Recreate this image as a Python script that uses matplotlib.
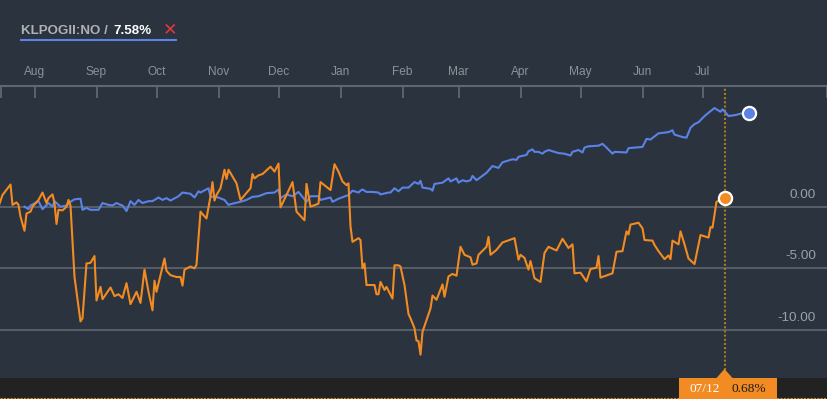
import matplotlib
matplotlib.use("Agg")
import matplotlib.pyplot as plt
import matplotlib.dates as mdates
from matplotlib.patches import Rectangle, Polygon
from matplotlib.lines import Line2D
import pandas as pd

# ---- data (days counted from START) ----
START = pd.Timestamp("2018-07-14")

orange_days = [0, 2, 6, 7, 9, 10, 11, 13, 14, 16, 17, 20, 22, 24, 25, 27, 28, 29, 30, 32,
               34, 35, 36, 38, 41, 42, 44, 46, 48, 49, 51, 52, 56, 58, 60, 62, 64, 66, 69, 71,
               73, 75, 77, 78, 79, 83, 84, 86, 89, 91, 92, 93, 96, 98, 99, 101, 102, 104, 106, 107,
               108, 109, 111, 113, 114, 115, 119, 121, 126, 127, 128, 130, 132, 136, 138, 140, 141, 144, 147, 149,
               153, 154, 156, 160, 161, 166, 168, 170, 172, 174, 175, 176, 177, 180, 181, 182, 183, 184, 188, 189,
               190, 191, 193, 194, 197, 198, 200, 201, 203, 205, 206, 208, 209, 210, 211, 212, 216, 217, 219, 222,
               223, 225, 227, 229, 231, 233, 236, 237, 239, 240, 244, 245, 246, 249, 252, 258, 260, 261, 263, 265,
               266, 268, 271, 273, 275, 279, 282, 285, 287, 288, 291, 294, 296, 299, 300, 301, 307, 309, 312, 314,
               315, 316, 320, 322, 323, 327, 328, 330, 333, 335, 336, 337, 340, 341, 343, 345, 348, 351, 355, 356,
               357, 359, 363]
orange_vals = [0.0, 0.95, 1.8, 0.15, 0.35, 0.15, -0.8, -1.95, -0.55, -0.4, 0.0, 0.55, 1.15, 0.3, 0.7, 1.0, 0.3, -1.4, -0.25, -0.3,
               0.0, 0.55, 0.1, -5.7, -9.3, -9.05, -4.6, -4.55, -4.0, -7.6, -6.5, -7.5, -6.55, -7.25, -7.1, -7.4, -6.2, -7.9, -6.9, -7.8,
               -5.1, -6.9, -8.4, -6.0, -6.9, -4.2, -5.2, -5.55, -5.7, -5.7, -6.4, -5.1, -4.85, -5.0, -4.7, -0.4, -0.6, -0.95, 0.85, 2.0,
               0.5, 0.95, 1.5, 3.0, 2.25, 3.0, 1.9, 0.55, 1.5, 2.65, 2.3, 2.55, 2.65, 3.25, 2.85, 3.5, -0.05, 0.95, 2.0, -0.4,
               -1.1, 1.85, 0.0, 0.25, 2.0, 1.35, 3.45, 2.85, 2.05, 1.75, 1.9, -1.6, -2.85, -2.55, -2.7, -5.0, -4.6, -6.35, -6.35, -7.1,
               -7.1, -6.1, -6.75, -6.5, -7.45, -4.75, -4.75, -4.85, -6.35, -8.7, -9.05, -9.85, -10.85, -10.9, -12.0, -10.15, -8.25, -7.2, -7.55, -6.3,
               -7.3, -5.65, -5.45, -5.6, -3.25, -3.9, -4.1, -4.7, -4.6, -3.9, -3.25, -2.45, -3.9, -3.5, -2.9, -2.55, -4.3, -3.9, -4.15, -5.1,
               -4.4, -5.8, -6.1, -3.75, -3.25, -3.55, -2.6, -3.35, -3.05, -5.4, -5.35, -6.05, -5.05, -4.95, -4.0, -5.75, -5.4, -3.65, -3.6, -2.0,
               -2.25, -1.45, -1.3, -1.75, -2.7, -2.75, -3.1, -3.6, -4.25, -3.95, -4.25, -2.75, -3.05, -2.0, -3.05, -4.2, -4.65, -2.3, -2.5, -1.65,
               -1.7, 0.4, 0.68]

blue_days = [13, 15, 16, 20, 22, 25, 27, 28, 31, 34, 36, 38, 41, 42, 44, 46, 50, 52, 55, 57,
             59, 61, 62, 64, 66, 68, 70, 72, 75, 77, 80, 82, 84, 86, 90, 92, 96, 98, 100, 101,
             105, 106, 109, 113, 115, 117, 121, 124, 127, 130, 134, 138, 140, 141, 144, 147, 150, 154, 156, 160,
             161, 166, 167, 170, 175, 177, 180, 181, 182, 184, 187, 190, 191, 195, 196, 198, 200, 202, 205, 208,
             210, 211, 212, 216, 217, 218, 222, 225, 226, 229, 230, 232, 234, 236, 237, 239, 244, 247, 250, 252,
             257, 259, 260, 264, 265, 267, 268, 270, 272, 273, 275, 277, 280, 283, 286, 287, 290, 292, 293, 295,
             300, 302, 304, 307, 308, 314, 315, 322, 324, 326, 330, 335, 337, 338, 342, 344, 346, 348, 350, 353,
             356, 358, 361, 362, 364, 365, 369, 371, 375]
blue_vals = [0.0, -0.2, 0.1, 0.45, -0.2, 0.3, 0.0, 0.45, 0.0, 0.1, 0.4, 0.6, 0.65, -0.25, -0.1, -0.25, -0.25, 0.3, 0.15, 0.1,
             0.3, 0.15, 0.1, -0.35, 0.45, 0.15, 0.55, 0.3, 0.45, 0.45, 0.75, 0.55, 0.7, 0.5, 0.85, 1.15, 1.05, 0.75, 1.25, 1.15,
             1.5, 0.8, 0.8, 0.55, 0.15, 0.25, 0.4, 0.55, 0.8, 0.85, 1.1, 1.15, 1.4, 0.7, 1.0, 0.85, 1.2, 0.4, 0.85, 0.85,
             0.55, 0.75, 0.4, 0.65, 0.95, 1.3, 1.15, 1.3, 1.4, 1.2, 1.2, 1.15, 1.0, 1.15, 1.15, 1.5, 1.25, 1.55, 1.55, 2.0,
             1.85, 2.1, 1.55, 1.45, 1.3, 1.85, 1.95, 2.3, 2.05, 2.3, 1.95, 2.15, 2.05, 2.15, 2.5, 2.15, 2.75, 3.3, 3.15, 3.6,
             3.85, 3.8, 4.05, 4.2, 4.5, 4.65, 4.45, 4.45, 4.3, 4.45, 4.6, 4.5, 4.35, 4.3, 4.15, 4.45, 4.6, 4.4, 4.8, 4.9,
             4.95, 5.1, 4.8, 4.3, 4.45, 4.4, 4.75, 4.85, 5.5, 5.45, 5.95, 6.05, 6.2, 5.85, 5.65, 5.6, 6.4, 6.7, 6.85, 7.35,
             7.75, 8.0, 7.7, 7.9, 7.55, 7.35, 7.45, 7.55, 7.58]

month_labels = ["Aug", "Sep", "Oct", "Nov", "Dec", "Jan", "Feb", "Mar", "Apr", "May", "Jun", "Jul"]
month_starts = pd.date_range("2018-08-01", "2019-07-01", freq="MS")
y_ticks = [0, -5, -10]
y_tick_labels = ["0.00", "-5.00", "-10.00"]

ticker_name = "KLPOGII:NO"
ticker_change = "7.58%"
hover_label = "07/12"
hover_value = "0.68%"

# ---- style ----
BG = "#2b333e"
BAND = "#222222"
ORANGE = "#f28b22"
BLUE = "#5b83e6"
GRID = "#565d66"
AXIS = "#5f666e"
LABEL = "#8c9299"

W, H = 828, 399
fig = plt.figure(figsize=(W / 100, H / 100), dpi=100)
fig.patch.set_facecolor(BG)

# plot area: pixel rows 86 .. 378
ax = fig.add_axes([0, (H - 378) / H, 1, (378 - 86) / H])
ax.set_facecolor(BG)

orange_dates = START + pd.to_timedelta(orange_days, unit="D")
blue_dates = START + pd.to_timedelta(blue_days, unit="D")

x0 = mdates.date2num(START)
ax.set_xlim(x0 + 0.75, x0 + 414.75)
ax.set_ylim(-13.89, 9.79)

for y in y_ticks:
    ax.axhline(y, color=GRID, lw=1.5, zorder=1)

ax.plot(blue_dates, blue_vals, color=BLUE, lw=1.5, zorder=3, solid_joinstyle="round")
ax.plot(orange_dates, orange_vals, color=ORANGE, lw=1.5, zorder=4, solid_joinstyle="round")

# hover line
hover_date = orange_dates[-1]
ax.axvline(hover_date, ymin=(378 - 370) / 292, ymax=1, color="#a57a24", lw=1.5,
           dashes=(1, 1), zorder=2)

ax.plot(blue_dates[-1], blue_vals[-1], "o", ms=9.5, mfc=BLUE, mec="white", mew=1.6, zorder=6)
ax.plot(hover_date, orange_vals[-1], "o", ms=9.5, mfc=ORANGE, mec="white", mew=1.6, zorder=6)

# y labels on the right, sitting on the gridlines
for y, lab in zip(y_ticks, y_tick_labels):
    ax.annotate(lab, xy=(1, y), xycoords=("axes fraction", "data"),
                xytext=(-12 * 0.72, 9 * 0.72), textcoords="offset points",
                ha="right", va="baseline", color="#9aa0a7", fontsize=9.7,
                family="Liberation Sans")

# top axis with month labels
for s in ["left", "right", "bottom"]:
    ax.spines[s].set_visible(False)
ax.spines["top"].set_color(AXIS)
ax.spines["top"].set_linewidth(1.5)
ax.xaxis.tick_top()
ax.set_xticks(month_starts)
ax.set_xticklabels(month_labels, family="Liberation Sans", fontsize=8.6, color=LABEL)
ax.set_xticks([x0 + 1.3, x0 + 414.2], minor=True)
ax.tick_params(axis="x", which="both", direction="in", length=8.6, width=1.3,
               color=AXIS, pad=5.5)
ax.set_yticks([])

# bottom band and hover tag
fig.patches.append(Rectangle((0, 0), 1, (399 - 378) / H, transform=fig.transFigure,
                             facecolor=BAND, edgecolor="none", zorder=0))
fig.add_artist(Line2D([0, 1], [1.5 / H, 1.5 / H], transform=fig.transFigure,
                      color=ORANGE, lw=0.8, dashes=(2, 1), alpha=0.9))

fig.canvas.draw()
tip_x = ax.transData.transform((mdates.date2num(hover_date), 0))[0]
left = tip_x - 45
fig.patches.append(Rectangle((left / W, 0), 98 / W, (399 - 378) / H, transform=fig.transFigure,
                             facecolor=ORANGE, edgecolor="none", zorder=2))
fig.patches.append(Polygon([((tip_x - 8) / W, (399 - 378) / H), ((tip_x + 8) / W, (399 - 378) / H),
                            (tip_x / W, (399 - 369) / H)],
                           closed=True, transform=fig.transFigure,
                           facecolor=ORANGE, edgecolor="none", zorder=2))
fig.text((left + 25) / W, (399 - 389) / H, hover_label, ha="center", va="center",
         color="white", fontsize=9.6, family="Liberation Serif", zorder=3)
fig.text((left + 69) / W, (399 - 389) / H, hover_value, ha="center", va="center",
         color="#1a1a1a", fontsize=9.6, family="Liberation Serif", zorder=3)

# legend-like header
fig.text(21 / W, (399 - 34) / H, ticker_name + " / ", ha="left", va="baseline",
         color="#aeb1b5", fontsize=9.6, fontweight="bold", family="Liberation Sans")
fig.text(113 / W, (399 - 34) / H, ticker_change, ha="left", va="baseline",
         color="white", fontsize=9.6, fontweight="bold", family="Liberation Sans")
fig.text(170 / W, (399 - 29.5) / H, "\u2715", ha="center", va="center",
         color="#e0393e", fontsize=12.5, fontweight="bold", family="DejaVu Sans")
fig.add_artist(Line2D([21 / W, 176 / W], [(399 - 39.5) / H, (399 - 39.5) / H],
                      transform=fig.transFigure, color=BLUE, lw=1.5))

fig.savefig("out.png", dpi=100, facecolor=BG)
